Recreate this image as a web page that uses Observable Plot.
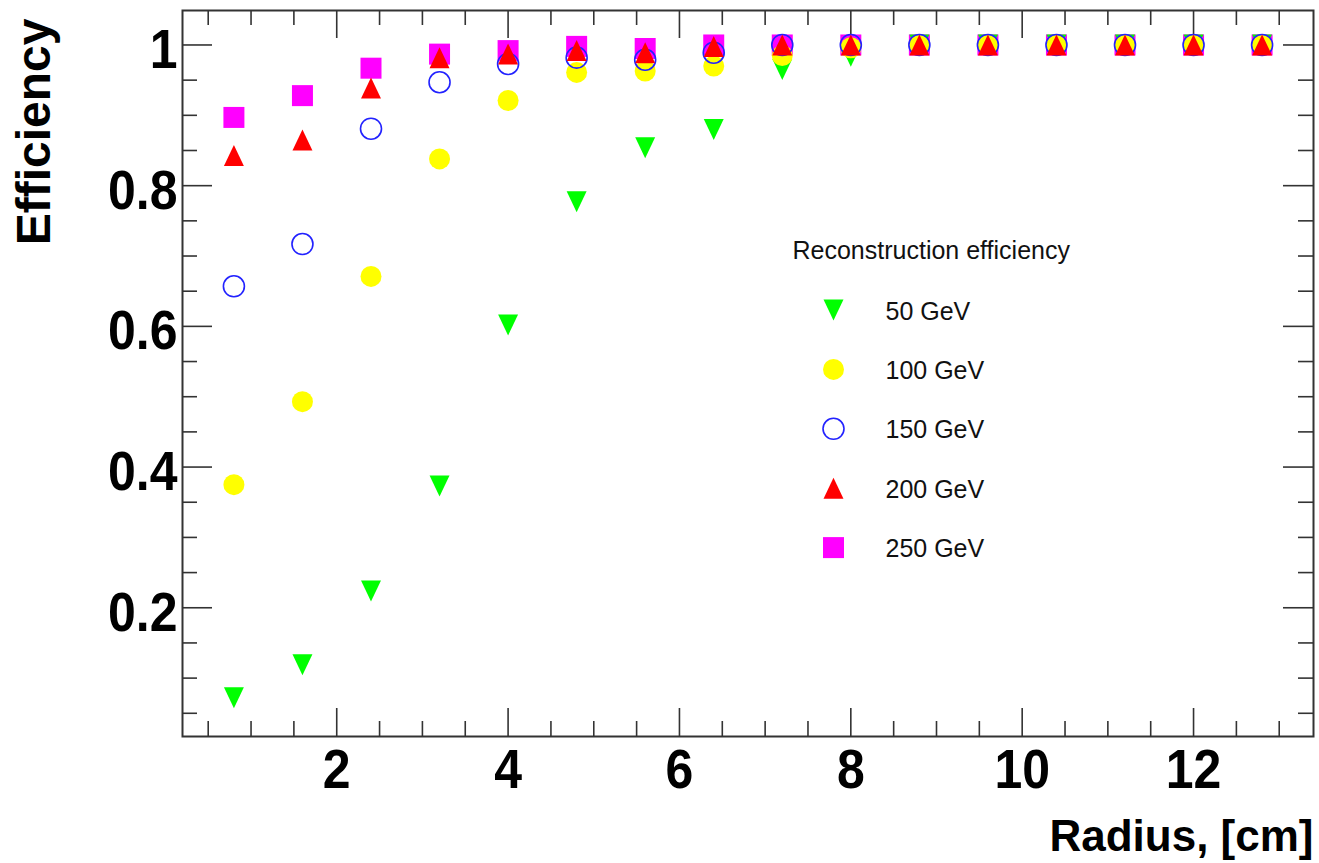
<!DOCTYPE html>
<html><head><meta charset="utf-8">
<script src="https://cdn.jsdelivr.net/npm/d3@7"></script>
<script src="https://cdn.jsdelivr.net/npm/@observablehq/plot@0.6"></script>
<style>body{margin:0;background:#fff} svg{display:block}</style>
</head><body><div id="chart"></div>
<script>
// ---- data ----
const radius = [0.8,1.6,2.4,3.2,4.0,4.8,5.6,6.4,7.2,8.0,8.8,9.6,10.4,11.2,12.0,12.8];
const eff50  = [0.072,0.119,0.224,0.373,0.602,0.777,0.854,0.880,0.965,0.984,1,1,1,1,1,1];
const eff100 = [0.375,0.493,0.671,0.838,0.921,0.961,0.963,0.970,0.985,0.996,1,1,1,1,1,1];
const eff150 = [0.657,0.717,0.881,0.947,0.973,0.982,0.979,0.989,1,1,1,1,1,1,1,1];
const eff200 = [0.843,0.865,0.939,0.982,0.987,0.992,0.989,0.998,1,1,1,1,1,1,1,1];
const eff250 = [0.897,0.928,0.967,0.987,0.992,0.998,0.995,1,1,1,1,1,1,1,1,1];
const seriesNames = ["50 GeV","100 GeV","150 GeV","200 GeV","250 GeV"];
const legendTitle = "Reconstruction efficiency";
const xTitle = "Radius, [cm]";
const yTitle = "Efficiency";
const xMajorTicks = [2,4,6,8,10,12];
const xMinorTicks = [0.5,1,1.5,2.5,3,3.5,4.5,5,5.5,6.5,7,7.5,8.5,9,9.5,10.5,11,11.5,12.5,13];
const yMajorTicks = [0.2,0.4,0.6,0.8,1];
const yMinorTicks = [0.05,0.1,0.15,0.25,0.3,0.35,0.45,0.5,0.55,0.65,0.7,0.75,0.85,0.9,0.95];

// ---- layout & style ----
const W = 1319, H = 863;
const mL = 182, mR = 6, mT = 10, mB = 127;
const frameW = W - mL - mR, frameH = H - mT - mB;
const FONT = "'Liberation Sans', Arial, Helvetica, sans-serif";
const AX = "#333";

const sym = fn => ({draw(ctx, size){ const r = Math.sqrt(size/Math.PI); fn(ctx, r); }});
const triUp = sym((c,r)=>{c.moveTo(0,-r); c.lineTo(r*0.95,r); c.lineTo(-r*0.95,r); c.closePath();});
const triDown = sym((c,r)=>{c.moveTo(0,r); c.lineTo(r*0.95,-r); c.lineTo(-r*0.95,-r); c.closePath();});
const square = sym((c,r)=>{c.rect(-r,-r,2*r,2*r);});
const circle = sym((c,r)=>{c.moveTo(r,0); c.arc(0,0,r,0,2*Math.PI);});

const values = {"50 GeV": eff50, "100 GeV": eff100, "150 GeV": eff150, "200 GeV": eff200, "250 GeV": eff250};
const styles = {
  "50 GeV":  {symbol: triDown, fill: "#00ff00"},
  "100 GeV": {symbol: circle, fill: "#ffff00"},
  "150 GeV": {symbol: circle, fill: "none", stroke: "#2222ff", strokeWidth: 1.6},
  "200 GeV": {symbol: triUp, fill: "#ff0000"},
  "250 GeV": {symbol: square, fill: "#ff00ff"}
};
const drawOrder = ["250 GeV","50 GeV","100 GeV","150 GeV","200 GeV"];
const R = 10.5;

const dataMarks = drawOrder.map(name =>
  Plot.dot(radius.map((x, i) => ({x, y: values[name][i]})), {x: "x", y: "y", r: R, ...styles[name]})
);

const legendMarks = seriesNames.flatMap((name, i) => [
  Plot.dot([name], {frameAnchor: "top-left", dx: 651, dy: 299.5 + i*59.4, r: R, ...styles[name]}),
  Plot.text([name], {text: d => d, frameAnchor: "top-left", dx: 703, dy: 301 + i*59.4, textAnchor: "start",
    lineAnchor: "middle", fontSize: 25, fontFamily: FONT, fill: "#111"})
]);

const tickStyle = {stroke: AX, strokeWidth: 1.6};

const chart = Plot.plot({
  width: W, height: H,
  marginLeft: mL, marginRight: mR, marginTop: mT, marginBottom: mB,
  style: {fontFamily: FONT, background: "#fff", overflow: "visible"},
  x: {domain: [0.2, 13.4]},
  y: {domain: [0.017, 1.049]},
  marks: [
    // ticks inside frame (ROOT style), all four sides
    Plot.ruleX(xMajorTicks, {x: d => d, insetTop: frameH - 28, ...tickStyle}),
    Plot.ruleX(xMinorTicks, {x: d => d, insetTop: frameH - 15, ...tickStyle}),
    Plot.ruleX(xMajorTicks, {x: d => d, insetBottom: frameH - 28, ...tickStyle}),
    Plot.ruleX(xMinorTicks, {x: d => d, insetBottom: frameH - 15, ...tickStyle}),
    Plot.ruleY(yMajorTicks, {y: d => d, insetRight: frameW - 30, ...tickStyle}),
    Plot.ruleY(yMinorTicks, {y: d => d, insetRight: frameW - 15, ...tickStyle}),
    Plot.ruleY(yMajorTicks, {y: d => d, insetLeft: frameW - 30, ...tickStyle}),
    Plot.ruleY(yMinorTicks, {y: d => d, insetLeft: frameW - 15, ...tickStyle}),
    Plot.axisX({ticks: xMajorTicks, tickSize: 0, tickPadding: 12, fontSize: 50, fontWeight: "bold",
      tickFormat: d => String(d), label: null, fill: "#000"}),
    Plot.axisY({ticks: yMajorTicks, tickSize: 0, tickPadding: 5, fontSize: 50, fontWeight: "bold",
      tickFormat: d => String(d), label: null, dy: 5, fill: "#000"}),
    Plot.frame({stroke: AX, strokeWidth: 2}),
    ...dataMarks,
    ...legendMarks,
    Plot.text([legendTitle], {text: d => d, frameAnchor: "top-left", dx: 610, dy: 240, textAnchor: "start",
      lineAnchor: "middle", fontSize: 25, fontFamily: FONT, fill: "#111"}),
    Plot.text([xTitle], {text: d => d, frameAnchor: "bottom-right", dy: 114, textAnchor: "end",
      lineAnchor: "bottom", fontSize: 44, fontWeight: "bold", fill: "#000"}),
    Plot.text([yTitle], {text: d => d, frameAnchor: "top-left", dx: -167, dy: 8, rotate: -90, textAnchor: "end",
      lineAnchor: "top", fontSize: 48, fontWeight: "bold", fill: "#000"})
  ]
});
// slight vertical stretch of the bold tick labels, as in the reference
d3.select(chart).selectAll('[aria-label="x-axis tick label"] text, [aria-label="y-axis tick label"] text')
  .attr("transform", function() { return (this.getAttribute("transform") || "") + " scale(1,1.12)"; });
document.getElementById("chart").appendChild(chart);
</script>
</body></html>
